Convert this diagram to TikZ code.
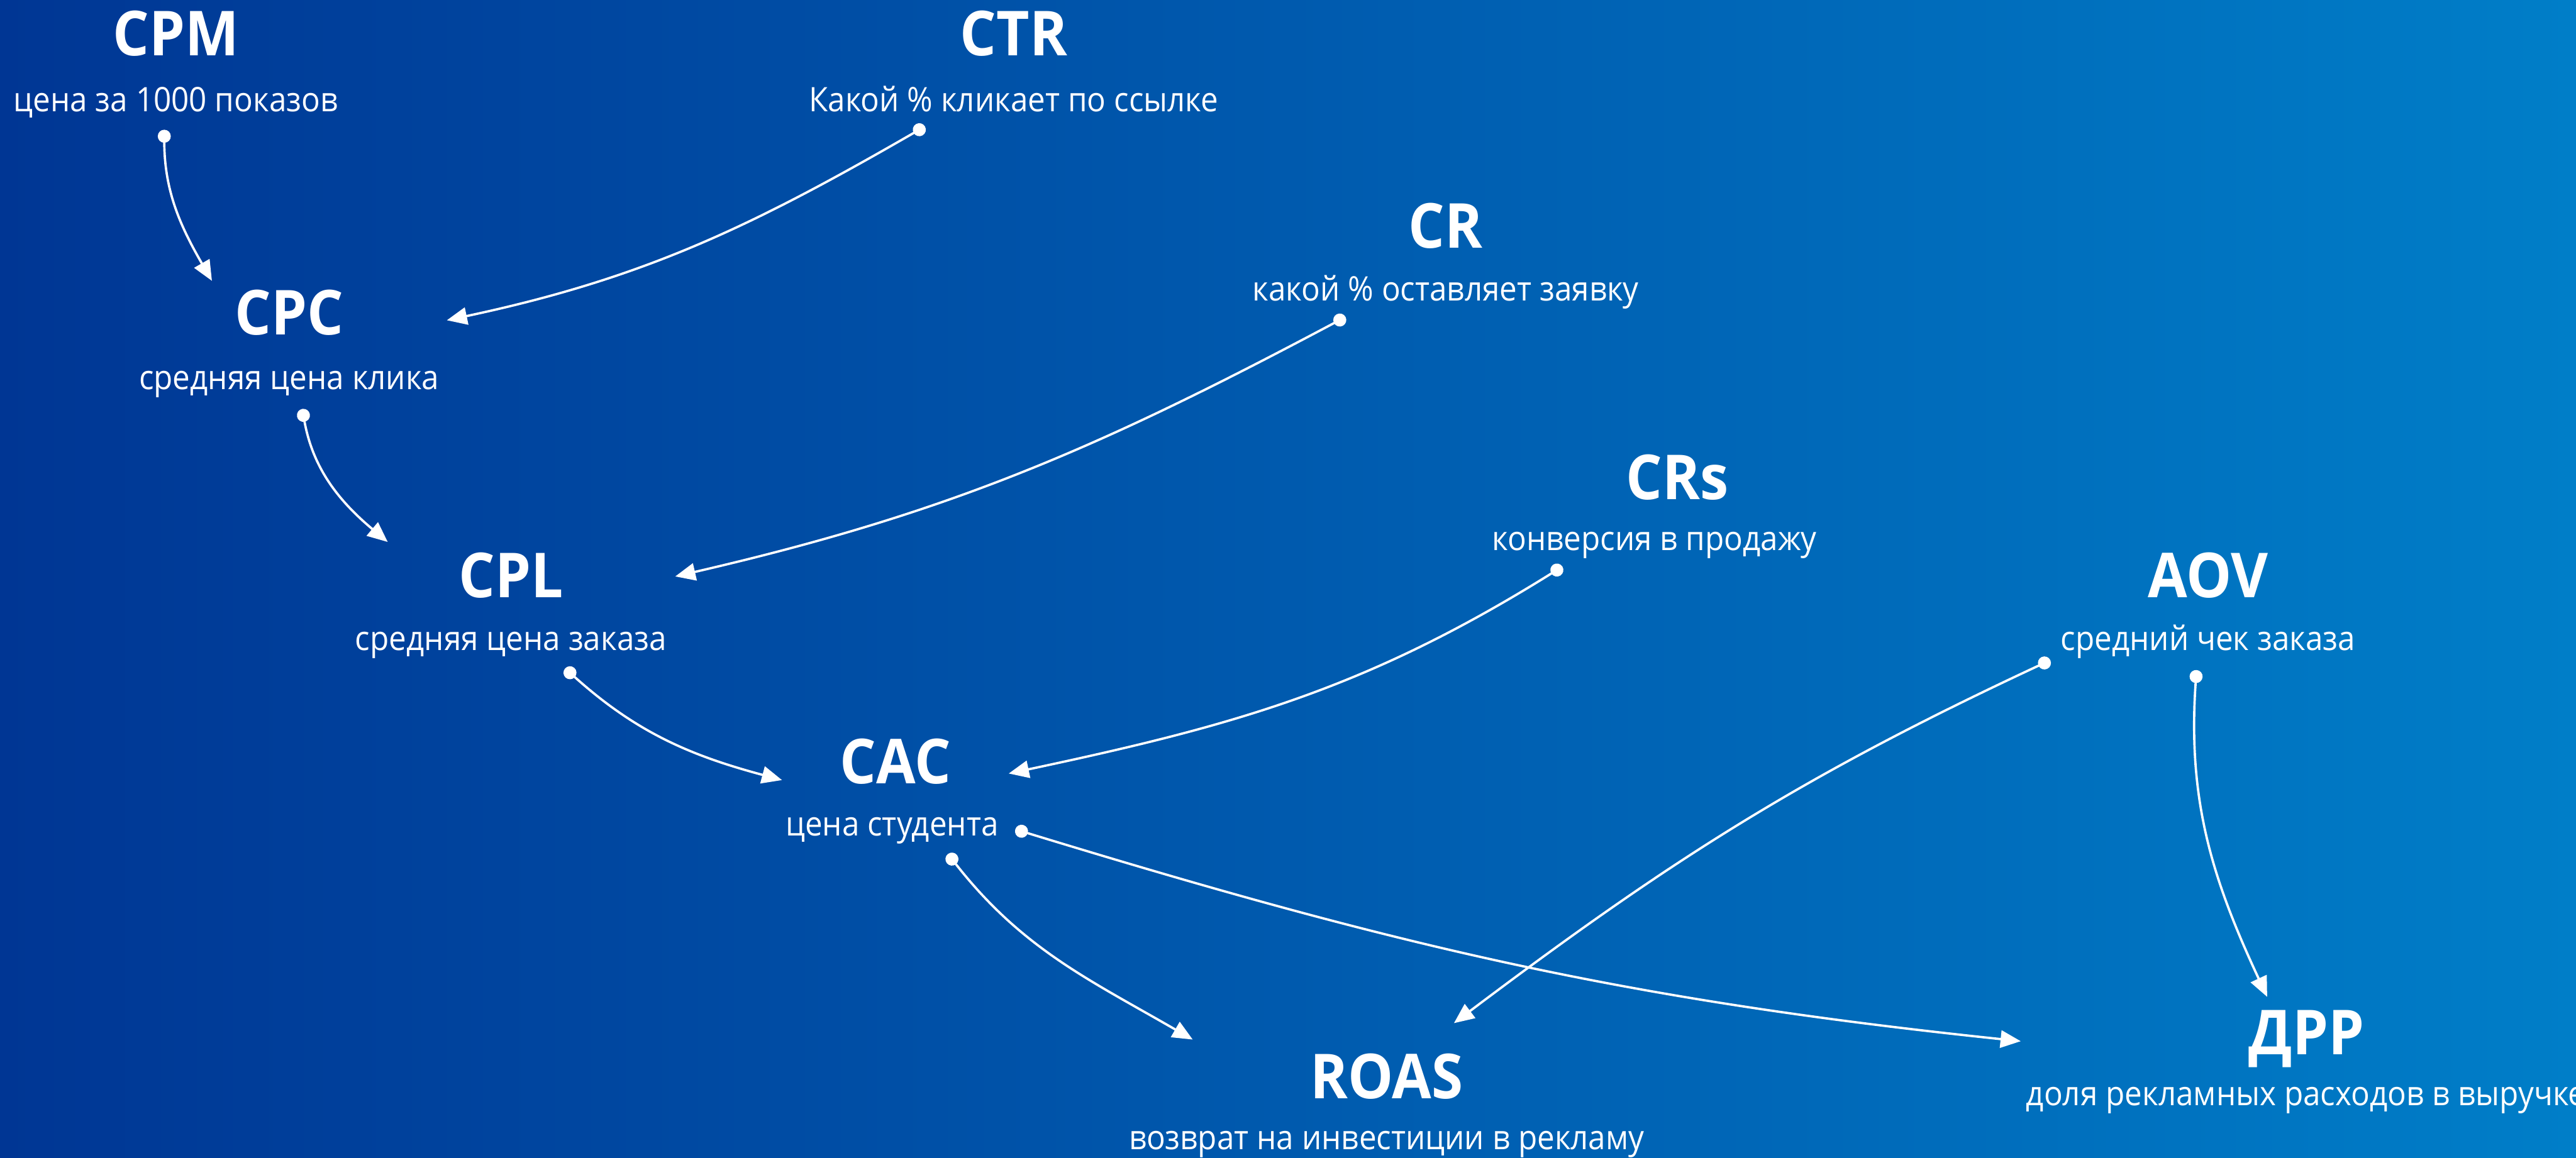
\documentclass[tikz,border=0pt]{standalone}
\usepackage{fontspec}
\setmainfont{Open Sans}[FakeStretch=0.92]
\usetikzlibrary{positioning,arrows.meta}
\definecolor{bgleft}{RGB}{0,54,148}
\definecolor{bgright}{RGB}{0,126,200}

\begin{document}
\begin{tikzpicture}[
    title/.style={text=white, font=\fontsize{21.5}{25}\selectfont\bfseries, anchor=base, inner sep=0pt},
    sub/.style={text=white, font=\fontsize{11.7}{14}\selectfont, anchor=base, inner sep=0pt},
    link/.style={{Circle[length=4.5pt]}-{Triangle[length=7pt,width=6pt]}, white, line width=0.8pt}
]
    % Background
    \useasboundingbox (0,0) rectangle (31.36,-14.1);
    \shade[left color=bgleft, right color=bgright] (0,0) rectangle (31.36,-14.1);

    % Metrics
    \node[title] (cpm) at (2.14,-0.68) {CPM};
    \node[sub] (cpmtext) at ([yshift=-0.68cm]cpm.base) {цена за 1000 показов};
    \node[title] (ctr) at (12.34,-0.68) {CTR};
    \node[sub] (ctrtext) at ([yshift=-0.68cm]ctr.base) {Какой \% кликает по ссылке};
    \node[title] (cpc) at (3.52,-4.08) {CPC};
    \node[sub] (cpctext) at ([yshift=-0.66cm]cpc.base) {средняя цена клика};
    \node[title] (cr) at (17.60,-3.02) {CR};
    \node[sub] (crtext) at ([yshift=-0.64cm]cr.base) {какой \% оставляет заявку};
    \node[title] (crs) at (20.42,-6.08) {CRs};
    \node[sub] (crstext) at ([xshift=-0.28cm, yshift=-0.62cm]crs.base) {конверсия в продажу};
    \node[title] (cpl) at (6.22,-7.28) {CPL};
    \node[sub] (cpltext) at ([yshift=-0.64cm]cpl.base) {средняя цена заказа};
    \node[title] (aov) at (26.88,-7.28) {AOV};
    \node[sub] (aovtext) at ([yshift=-0.64cm]aov.base) {средний чек заказа};
    \node[title] (cac) at (10.90,-9.54) {CAC};
    \node[sub] (cactext) at ([xshift=-0.04cm, yshift=-0.64cm]cac.base) {цена студента};
    \node[title] (roas) at (16.88,-13.38) {ROAS};
    \node[sub] (roastext) at ([yshift=-0.62cm]roas.base) {возврат на инвестиции в рекламу};
    \node[title] (drr) at (28.08,-12.84) {ДРР};
    \node[sub, anchor=base west] (drrtext) at (24.66,-13.46) {доля рекламных расходов в выручке};

    % Connector ends
    \coordinate (cpm-out) at (2.00,-1.58);
    \coordinate (cpc-in) at (2.58,-3.42);
    \coordinate (ctr-out) at (11.26,-1.54);
    \coordinate (cpc-in2) at (5.44,-3.90);
    \coordinate (cpc-out) at (3.68,-4.98);
    \coordinate (cpl-in) at (4.72,-6.60);
    \coordinate (cr-out) at (16.38,-3.86);
    \coordinate (cpl-in2) at (8.22,-7.02);
    \coordinate (cpl-out) at (6.88,-8.14);
    \coordinate (cac-in) at (9.52,-9.50);
    \coordinate (crs-out) at (19.02,-6.90);
    \coordinate (cac-in2) at (12.28,-9.42);
    \coordinate (cac-out) at (11.54,-10.40);
    \coordinate (roas-in) at (14.52,-12.66);
    \coordinate (cac-out2) at (12.36,-10.10);
    \coordinate (drr-in) at (24.60,-12.68);
    \coordinate (aov-out) at (24.96,-8.04);
    \coordinate (roas-in2) at (17.70,-12.46);
    \coordinate (aov-out2) at (26.74,-8.16);
    \coordinate (drr-in2) at (27.60,-12.14);

    % Arrows
    \draw[link] (cpm-out) to[out=-90, in=120] (cpc-in);
    \draw[link] (ctr-out) to[out=210, in=12] (cpc-in2);
    \draw[link] (cpc-out) to[out=-80, in=140] (cpl-in);
    \draw[link] (cr-out) to[out=208, in=13] (cpl-in2);
    \draw[link] (cpl-out) to[out=-42, in=165] (cac-in);
    \draw[link] (crs-out) to[out=212, in=12] (cac-in2);
    \draw[link] (cac-out) to[out=-52, in=150] (roas-in);
    \draw[link] (cac-out2) to[out=-17, in=174] (drr-in);
    \draw[link] (aov-out) to[out=205, in=37] (roas-in2);
    \draw[link] (aov-out2) to[out=-94, in=115] (drr-in2);
\end{tikzpicture}
\end{document}
